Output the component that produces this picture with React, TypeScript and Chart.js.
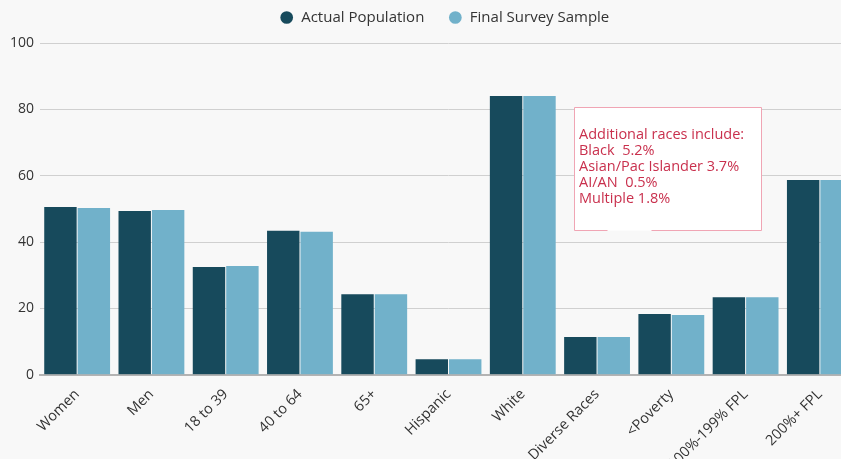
import React, { useEffect, useRef } from "react";
import { Chart, registerables } from "chart.js";

Chart.register(...registerables);

const categories = [
  "Women",
  "Men",
  "18 to 39",
  "40 to 64",
  "65+",
  "Hispanic",
  "White",
  "Diverse Races",
  "<Poverty",
  "100%-199% FPL",
  "200%+ FPL",
];

const actualPopulation = [50.6, 49.4, 32.5, 43.4, 24.3, 4.7, 84.0, 11.4, 18.3, 23.4, 58.7];
const finalSurveySample = [50.3, 49.7, 32.8, 43.1, 24.3, 4.7, 84.0, 11.4, 18.0, 23.4, 58.7];

const seriesNames = ["Actual Population", "Final Survey Sample"];
const seriesColors = ["#174a5c", "#71b1ca"];

const noteLines = [
  "Additional races include:",
  "Black  5.2%",
  "Asian/Pac Islander 3.7%",
  "AI/AN  0.5%",
  "Multiple 1.8%",
];

const FONT = "'Open Sans', 'Noto Sans', sans-serif";

const legendTweak = {
  id: "legendTweak",
  beforeInit(chart: any) {
    const legend = chart.legend;
    if (!legend) return;
    const orig = legend.fit.bind(legend);
    legend.fit = function () {
      orig();
      this.height -= 6;
    };
  },
  afterLayout(chart: any) {
    const l = chart.legend;
    if (!l) return;
    l.top -= 14;
    l.bottom -= 14;
    l.left += 14;
    l.right += 14;
  },
};

const notePlugin = {
  id: "raceNote",
  afterDatasetsDraw(chart: any) {
    const { ctx, scales } = chart;
    const xs = scales.x;
    const ys = scales.y;
    const left = Math.round(xs.getPixelForValue(6.687)) + 0.5;
    const right = Math.round(xs.getPixelForValue(9.205)) + 0.5;
    const top = Math.round(ys.getPixelForValue(80.7)) + 0.5;
    const bottom = Math.round(ys.getPixelForValue(43.6)) + 0.5;
    ctx.save();
    ctx.fillStyle = "#ffffff";
    ctx.fillRect(left, top, right - left, bottom - top);
    ctx.strokeStyle = "#f0a5b4";
    ctx.lineWidth = 1;
    ctx.beginPath();
    ctx.moveTo(left + 33, bottom);
    ctx.lineTo(left, bottom);
    ctx.lineTo(left, top);
    ctx.lineTo(right, top);
    ctx.lineTo(right, bottom);
    ctx.lineTo(left + 77, bottom);
    ctx.stroke();
    ctx.fillStyle = "#c9304d";
    ctx.font = `14.5px ${FONT}`;
    ctx.textBaseline = "middle";
    ctx.textAlign = "left";
    noteLines.forEach((line, i) => {
      ctx.fillText(line, left + 4.5, top + 27 + i * 16);
    });
    ctx.restore();
  },
};

export default function App() {
  const ref = useRef<HTMLCanvasElement>(null);

  useEffect(() => {
    document.body.style.margin = "0";
    document.body.style.overflow = "hidden";
    document.body.style.background = "#f8f8f8";
    const canvas = ref.current!;
    const chart = new Chart(canvas, {
      type: "bar",
      data: {
        labels: categories,
        datasets: [
          {
            label: seriesNames[0],
            data: actualPopulation,
            backgroundColor: seriesColors[0],
            categoryPercentage: 0.9,
            barPercentage: 0.97,
          },
          {
            label: seriesNames[1],
            data: finalSurveySample,
            backgroundColor: seriesColors[1],
            categoryPercentage: 0.9,
            barPercentage: 0.97,
          },
        ],
      },
      options: {
        responsive: false,
        animation: false,
        layout: { padding: { left: 4, right: 23, top: 0, bottom: 0 } },
        plugins: {
          legend: {
            position: "top",
            labels: {
              usePointStyle: true,
              pointStyle: "circle",
              boxWidth: 14,
              boxHeight: 9,
              padding: 24,
              color: "#333333",
              font: { family: FONT, size: 15 },
            },
          },
          tooltip: { enabled: false },
        },
        scales: {
          x: {
            grid: { display: false },
            border: { color: "#b3b3b3", width: 2 },
            ticks: {
              color: "#333333",
              font: { family: FONT, size: 14.5 },
              maxRotation: 45,
              minRotation: 45,
              autoSkip: false,
            },
          },
          y: {
            min: 0,
            max: 100,
            ticks: {
              stepSize: 20,
              color: "#333333",
              font: { family: FONT, size: 14 },
              padding: 6,
            },
            grid: { color: "#d0d0d0", drawTicks: false },
            border: { display: false },
          },
        },
      },
      plugins: [legendTweak, notePlugin],
    });
    return () => chart.destroy();
  }, []);

  return (
    <div style={{ width: 880, height: 459 }}>
      <canvas ref={ref} width={880} height={476} style={{ display: "block" }} />
    </div>
  );
}
